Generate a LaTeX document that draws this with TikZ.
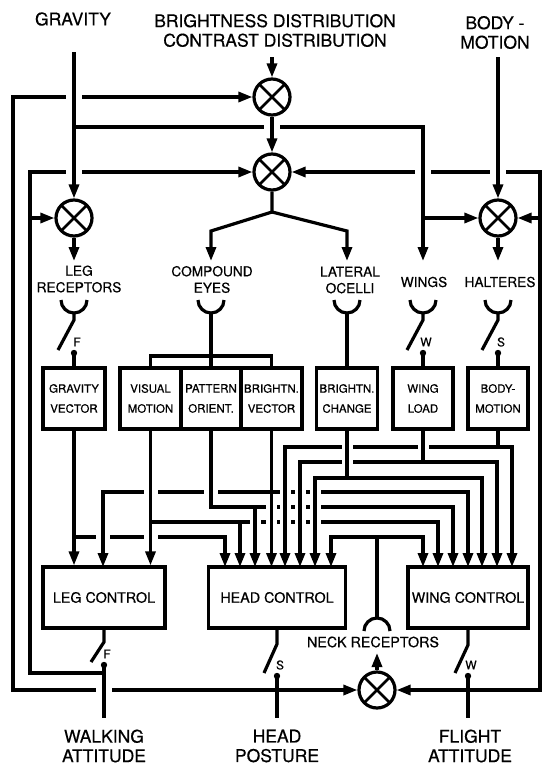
\documentclass[tikz,border=0pt]{standalone}
\usepackage{fontspec}
\setmainfont{TeX Gyre Heros}[FakeBold=0.5]
\usetikzlibrary{arrows.meta, calc}

% break a horizontal wire where a vertical one passes over it
\newcommand\hop[3][5.5]{%
  \fill[white] (#2-#1,#3-3.4) rectangle (#2+#1,#3+3.4);
  \draw (#2,#3-4.5) -- (#2,#3+4.5);}

\begin{document}
\begin{tikzpicture}[x=1pt, y=-1pt, line width=3.2pt,
  >={Triangle[length=14pt, width=10pt]},
  title/.style={font=\fontsize{17.5}{19.5}\selectfont, align=center, inner sep=0pt},
  organ/.style={font=\fontsize{13.7}{16.5}\selectfont, align=center, inner sep=0pt},
  filt/.style={draw, minimum height=61pt, inner sep=0pt, align=center,
               font=\fontsize{11.5}{20}\selectfont},
  ctrl/.style={draw, minimum height=61pt, font=\fontsize{14.3}{16}\selectfont},
  swl/.style={font=\fontsize{12}{12}\selectfont, inner sep=0pt},
  cmp/.style={circle, draw, fill=white, minimum size=36pt, inner sep=0pt, line width=3.2pt},
  wedge/.style={path picture={
    \foreach \a in {#1}
      \fill (path picture bounding box.center) -- +(\a+45:30pt) -- +(\a-45:30pt) -- cycle;
    \draw[line width=2.6pt] (path picture bounding box.center)
      +(45:30pt) -- +(225:30pt) +(135:30pt) -- +(-45:30pt);}}]
  \useasboundingbox (0,0) rectangle (543,766);

  % stimuli
  \node[title] (tgrav) at (73,19) {GRAVITY};
  \node[title] (tbri) at (275,30.5) {BRIGHTNESS DISTRIBUTION\\CONTRAST DISTRIBUTION};
  \node[title] (tbody) at (495,32.5) {BODY -\\MOTION};
  \coordinate (gsrc) at (74,52);
  \coordinate (bsrc) at (272,57);
  \coordinate (msrc) at (498,57);

  % comparators
  \node[cmp, wedge={180}] (c1) at (272,97) {};
  \node[cmp, wedge={180,0}] (c2) at (272,172) {};
  \node[cmp, wedge={180}] (cleg) at (74,218) {};
  \node[cmp, wedge={180,0}] (chal) at (498,218) {};
  \node[cmp, wedge={180,0}] (cneck) at (377,690) {};

  % sense organs
  \node[organ] (tleg) at (79,279) {LEG\\RECEPTORS};
  \node[organ] (teye) at (212,279.5) {COMPOUND\\EYES};
  \node[organ] (toc) at (350,280) {LATERAL\\OCELLI};
  \node[organ] (twing) at (424,282) {WINGS};
  \node[organ] (thalt) at (500,282) {HALTERES};
  \foreach \n/\x in {leg/74, eye/211, oc/347, wing/423, halt/498} {
    \coordinate (a\n) at (\x,261);
    \draw (\x-13,300) arc[start angle=180, end angle=0, radius=13];
    \coordinate (s\n) at (\x,313);
  }

  % filters
  \node[filt, minimum width=62pt] (gvec) at (74,398.5) {GRAVITY\\VECTOR};
  \node[filt, minimum width=61pt] (vmot) at (150.5,398.5) {VISUAL\\MOTION};
  \node[filt, minimum width=60pt] (pori) at (211,398.5) {PATTERN\\ORIENT.};
  \node[filt, minimum width=61pt] (bvec) at (271.5,398.5) {BRIGHTN.\\VECTOR};
  \node[filt, minimum width=61pt] (bchg) at (347,398.5) {BRIGHTN.\\CHANGE};
  \node[filt, minimum width=60pt] (wload) at (423,398.5) {WING\\LOAD};
  \node[filt, minimum width=60pt] (bmot) at (498,398.5) {BODY-\\MOTION};

  % controllers
  \node[ctrl, minimum width=122pt] (lc) at (104,597.5) {LEG CONTROL};
  \node[ctrl, minimum width=137pt] (hc) at (277,597.5) {HEAD CONTROL};
  \node[ctrl, minimum width=120pt] (wc) at (468,597.5) {WING CONTROL};
  \node[font=\fontsize{14.3}{16}\selectfont, inner sep=0pt] (tneck) at (373,642) {NECK RECEPTORS};
  \coordinate (aneck) at (377,653);
  \coordinate (ncup) at (377,618);
  \draw (364,631) arc[start angle=180, end angle=360, radius=13];

  % outputs
  \node[title] (twalk) at (104,746) {WALKING\\ATTITUDE};
  \node[title] (thead) at (277,746) {HEAD\\POSTURE};
  \node[title] (tflight) at (470,746) {FLIGHT\\ATTITUDE};

  % top wiring
  \coordinate (ygw) at (0,127);
  \coordinate (fork) at (272,212);
  \coordinate (forkl) at (211,231);
  \coordinate (forkr) at (347,231);
  \draw[->] (bsrc) -- (c1);
  \draw[->] (c1) -- (c2);
  \draw[->] (gsrc) -- (cleg);
  \draw[->] (msrc) -- (chal);
  \draw[->] (cleg) -- (aleg);
  \draw[->] (chal) -- (ahalt);
  \draw[->] (c2) -- (fork) -- (forkl) -- (aeye);
  \draw[->] (fork) -- (forkr) -- (aoc);
  \draw[->] (gsrc |- ygw) -| (awing);
  \draw[->] (awing |- chal) -- (chal);

  % receptors to filters
  \coordinate (ybr) at (0,356);
  \draw (seye) -- (pori);
  \draw (vmot.north) |- (bvec.north |- ybr) -- (bvec.north);
  \draw (soc) -- (bchg);
  \foreach \n/\x/\l/\b in {leg/74/F/gvec, wing/423/W/wload, halt/498/S/bmot} {
    \draw (s\n) -- (\x,320) -- (\x-16,350);
    \fill (\x,353) circle (3.2pt);
    \draw (\x,353) -- (\b);
    \node[swl] at (\x+3,342) {\l};
  }

  % filters to controllers
  \foreach \y/\r in {447/A, 462/B, 478/C, 492/D, 507/E, 522/F, 537/G}
    \coordinate (y\r) at (0,\y);
  \foreach \i/\x in {1/225, 2/240, 3/255, 4/271.5, 5/285, 6/300, 7/315, 8/331}
    \coordinate (h\i) at (\x,567);
  \foreach \i/\x in {1/423, 2/438, 3/453, 4/468, 5/482, 6/497, 7/512}
    \coordinate (w\i) at (\x,567);
  \coordinate (l2) at (103,567);
  \draw[->] (gvec) -- (gvec |- lc.north);
  \draw[->] (gvec.south |- yG) -| (h1);
  \draw[->] (vmot) -- (vmot |- lc.north);
  \draw[->] (vmot.south |- yF) -| (w2);
  \draw[->] (h2 |- yF) -- (h2);
  \draw[->] (pori.south) |- (w3 |- yE) -- (w3);
  \draw[->] (h3 |- yE) -- (h3);
  \draw[->] (bvec) -- (h4);
  \draw[<->] (l2) |- (w4 |- yD) -- (w4);
  \draw[<->] (h7) |- (w5 |- yC) -- (w5);
  \draw (bchg) -- (bchg |- yC);
  \draw[<->] (h6) |- (w6 |- yB) -- (w6);
  \draw (wload) -- (wload |- yB);
  \draw[<->] (h5) |- (w7 |- yA) -- (w7);
  \draw (bmot) -- (bmot |- yA);
  \draw[<->] (h8) |- (w1 |- yG) -- (w1);
  \draw (ncup) -- (ncup |- yG);

  % controller outputs
  \foreach \n/\x/\l/\p/\d/\b in {walk/104/F/642/665/lc, head/277/S/644/676/hc, flight/468/W/645/676/wc} {
    \draw (\b) -- (\x,\p) -- (\x-13,\d-3);
    \fill (\x,\d) circle (3.2pt);
    \draw (\x,\d) -- (\x,718) coordinate (o\n);
    \node[swl] at (\x+3,\d-11) {\l};
  }

  % feedback loops
  \coordinate (xo) at (13,0);
  \coordinate (xi) at (30,0);
  \coordinate (xr) at (540,0);
  \coordinate (yin) at (0,673);
  \draw[->] (cneck) -- (aneck);
  \draw[->] (ohead |- cneck) -- (cneck);
  \draw[->] (oflight |- cneck) -- (cneck);
  \draw[->] (ohead |- cneck) -- (xo |- cneck) -- (xo |- c1) -- (c1);
  \draw[->] (owalk |- yin) -- (xi |- yin) -- (xi |- c2) -- (c2);
  \draw[->] (xi |- cleg) -- (cleg);
  \draw[->] (oflight |- cneck) -- (xr |- cneck) -- (xr |- c2) -- (c2);
  \draw[->] (xr |- chal) -- (chal);

  % crossings
  \foreach \x/\y in {74/97, 74/172, 423/172, 498/172, 272/127, 104/690} \hop[8]{\x}{\y};
  \foreach \x/\y in {103/537, 150.5/537, 150.5/492, 211/492} \hop[7]{\x}{\y};
  \foreach \x in {255, 271.5, 285, 300, 315} \hop{\x}{522};
  \foreach \x in {271.5, 285, 300, 315} \hop{\x}{507};
  \foreach \x in {285, 300, 315} \hop{\x}{492};
  \foreach \x/\y in {347/462, 347/447, 423/447} \hop{\x}{\y};
\end{tikzpicture}
\end{document}
